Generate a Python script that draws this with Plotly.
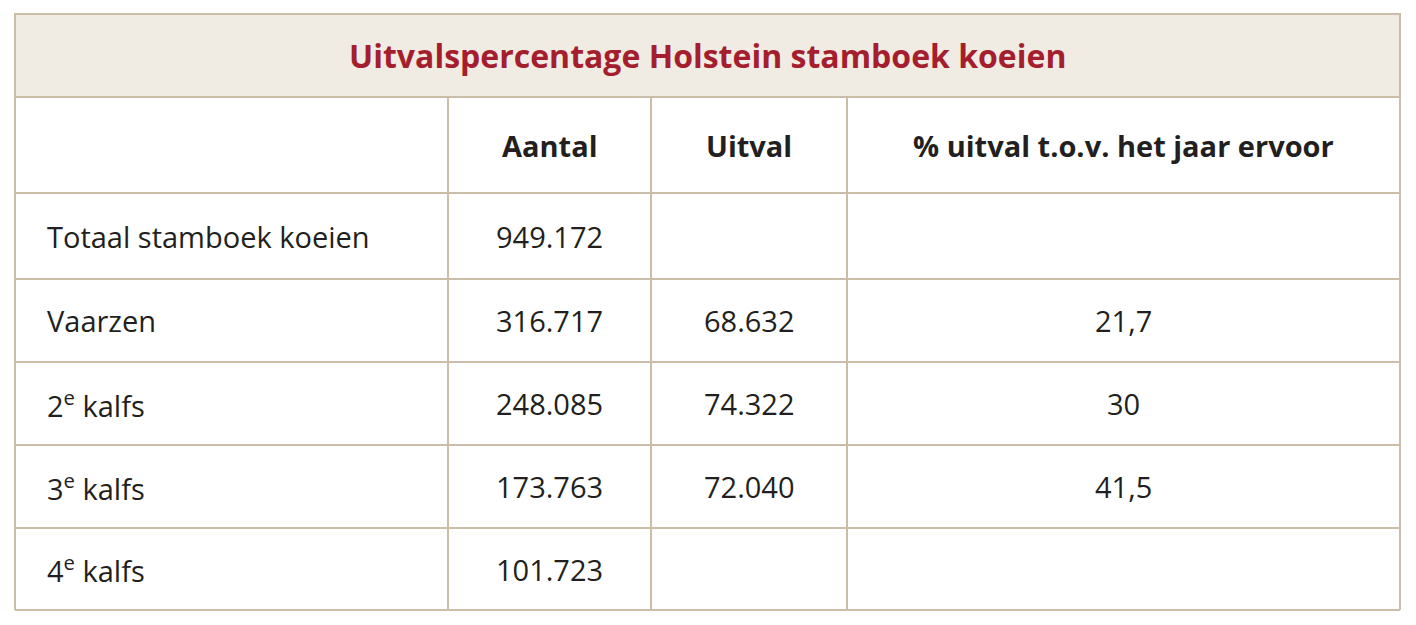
import plotly.graph_objects as go

title = "Uitvalspercentage Holstein stamboek koeien"
columns = ["", "Aantal", "Uitval", "% uitval t.o.v. het jaar ervoor"]
categories = ["Totaal stamboek koeien", "Vaarzen", "2<sup>e</sup> kalfs", "3<sup>e</sup> kalfs", "4<sup>e</sup> kalfs"]
aantal = ["949.172", "316.717", "248.085", "173.763", "101.723"]
uitval = ["", "68.632", "74.322", "72.040", ""]
pct = ["", "21,7", "30", "41,5", ""]

# page has an 8px body margin, so the figure is drawn 16px smaller and offset
OFF = 8
W, H = 1416 - 2 * OFF, 625 - 2 * OFF
line_col = "#cbbda8"
text_col = "#231f20"
font = "Open Sans, Lato, sans-serif"

col_edges = [15, 448, 651, 847, 1400]
row_edges = [14, 97, 193, 279, 362, 445, 528, 610]


def px(x):
    return (x - OFF) / W


def py(y):
    return 1 - (y - OFF) / H


fig = go.Figure()

# title band
fig.add_shape(type="rect", xref="paper", yref="paper",
              x0=px(col_edges[0]), x1=px(col_edges[-1]),
              y0=py(row_edges[1]), y1=py(row_edges[0]),
              fillcolor="#f0ece4", line=dict(color=line_col, width=2))
fig.add_annotation(text="<b>%s</b>" % title, xref="paper", yref="paper",
                   x=px((col_edges[0] + col_edges[-1]) / 2),
                   y=py((row_edges[0] + row_edges[1]) / 2),
                   xanchor="center", yanchor="middle", showarrow=False,
                   font=dict(family=font, size=32, color="#a51e2d"))

# grid lines
for y in row_edges[1:]:
    fig.add_shape(type="line", xref="paper", yref="paper",
                  x0=px(col_edges[0]), x1=px(col_edges[-1]), y0=py(y), y1=py(y),
                  line=dict(color=line_col, width=2))
for i, x in enumerate(col_edges):
    top = row_edges[0] if i in (0, len(col_edges) - 1) else row_edges[1]
    fig.add_shape(type="line", xref="paper", yref="paper",
                  x0=px(x), x1=px(x), y0=py(top), y1=py(row_edges[-1]),
                  line=dict(color=line_col, width=2))

# header
for j, c in enumerate(columns):
    if not c:
        continue
    fig.add_annotation(text="<b>%s</b>" % c, xref="paper", yref="paper",
                       x=px((col_edges[j] + col_edges[j + 1]) / 2),
                       y=py((row_edges[1] + row_edges[2]) / 2),
                       xanchor="center", yanchor="middle", showarrow=False,
                       font=dict(family=font, size=29, color=text_col))

# body
table_cols = [categories, aantal, uitval, pct]
for j, vals in enumerate(table_cols):
    for r, v in enumerate(vals):
        if not v:
            continue
        yc = py((row_edges[r + 2] + row_edges[r + 3]) / 2)
        if j == 0:
            x, anchor = px(col_edges[0] + 30), "left"
        else:
            x, anchor = px((col_edges[j] + col_edges[j + 1]) / 2), "center"
        fig.add_annotation(text=v, xref="paper", yref="paper", x=x, y=yc,
                           xanchor=anchor, yanchor="middle", showarrow=False,
                           font=dict(family=font, size=29, color=text_col))

fig.update_xaxes(visible=False)
fig.update_yaxes(visible=False)
fig.update_layout(width=W, height=H, margin=dict(l=0, r=0, t=0, b=0),
                  paper_bgcolor="white", plot_bgcolor="white")

fig.write_html("out.html")
